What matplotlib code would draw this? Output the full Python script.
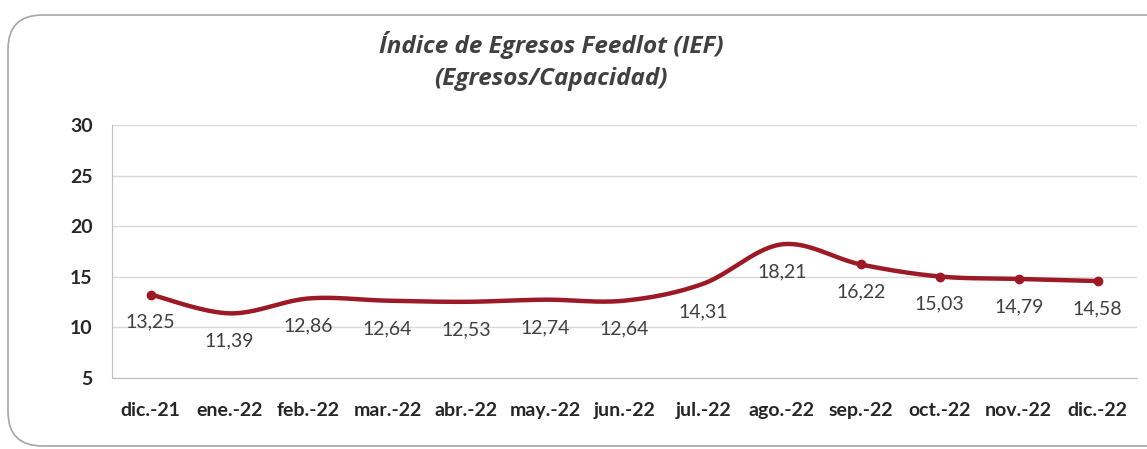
import numpy as np
import matplotlib
matplotlib.use("Agg")
from matplotlib import pyplot as plt
from matplotlib.patches import FancyBboxPatch

# datos del grafico
meses = ['dic.-21', 'ene.-22', 'feb.-22', 'mar.-22', 'abr.-22', 'may.-22',
         'jun.-22', 'jul.-22', 'ago.-22', 'sep.-22', 'oct.-22', 'nov.-22',
         'dic.-22']
ief = [13.25, 11.39, 12.86, 12.64, 12.53, 12.74, 12.64, 14.31, 18.21,
       16.22, 15.03, 14.79, 14.58]
etiquetas = ['13,25', '11,39', '12,86', '12,64', '12,53', '12,74', '12,64',
             '14,31', '18,21', '16,22', '15,03', '14,79', '14,58']
con_marcador = [0, 9, 10, 11, 12]

rojo = '#9c1a26'
gris_txt = '#404040'


def suavizar(x, y, n=40):
    # linea suavizada tipo Excel (bezier con puntos de control catmull-rom)
    px = np.concatenate([[x[0]], x, [x[-1]]])
    py = np.concatenate([[y[0]], y, [y[-1]]])
    xs, ys = [], []
    t = np.linspace(0, 1, n)
    for i in range(1, len(px) - 2):
        p0 = np.array([px[i], py[i]])
        p3 = np.array([px[i + 1], py[i + 1]])
        p1 = p0 + (np.array([px[i + 1], py[i + 1]]) - np.array([px[i - 1], py[i - 1]])) / 6
        p2 = p3 - (np.array([px[i + 2], py[i + 2]]) - np.array([px[i], py[i]])) / 6
        b = ((1 - t) ** 3)[:, None] * p0 + (3 * (1 - t) ** 2 * t)[:, None] * p1 \
            + (3 * (1 - t) * t ** 2)[:, None] * p2 + (t ** 3)[:, None] * p3
        xs.extend(b[:, 0])
        ys.extend(b[:, 1])
    return np.array(xs), np.array(ys)


fig = plt.figure(figsize=(11.47, 4.49), dpi=100)
ax = fig.add_axes([0.0977, 0.1581, 0.8936, 0.5635])

# marco redondeado
marco = FancyBboxPatch((8 / 1147, 3 / 449), 1.2, 431 / 449,
                       boxstyle="round,pad=0,rounding_size=0.03",
                       transform=fig.transFigure, fill=False,
                       edgecolor='#a6a6a6', linewidth=1.2,
                       mutation_aspect=1147 / 449, zorder=0)
fig.patches.append(marco)

x = np.arange(len(meses))
sx, sy = suavizar(x.astype(float), np.array(ief))
ax.plot(sx, sy, color=rojo, linewidth=3.2, solid_capstyle='round', zorder=3)
ax.plot(x[con_marcador], np.array(ief)[con_marcador], 'o', color=rojo,
        markersize=6, zorder=4)

for i in range(len(meses)):
    ax.annotate(etiquetas[i], (x[i], ief[i]), xytext=(0, -20),
                textcoords='offset points', ha='center', va='center',
                fontsize=14, color=gris_txt, family='Lato')

ax.set_xlim(-0.49, 12.5)
ax.set_ylim(5, 30)
ax.set_yticks([5, 10, 15, 20, 25, 30])
ax.set_xticks(x)
ax.set_xticklabels(meses)
ax.grid(axis='y', color='#d9d9d9', linewidth=1)
ax.set_axisbelow(True)
for s in ['top', 'right']:
    ax.spines[s].set_visible(False)
ax.spines['left'].set_color('#bfbfbf')
ax.spines['bottom'].set_color('#bfbfbf')
ax.tick_params(length=0)
ax.tick_params(axis='x', pad=17)
ax.tick_params(axis='y', pad=14)
for lab in ax.get_xticklabels() + ax.get_yticklabels():
    lab.set_family('Lato')
    lab.set_fontweight('bold')
    lab.set_fontsize(14)
    lab.set_color('#262626')

fig.text(551 / 1147, 1 - 45 / 449, 'Índice de Egresos Feedlot (IEF)',
         ha='center', va='center', fontsize=17.5, fontweight='bold',
         style='italic', family='Open Sans', color=gris_txt)
fig.text(551 / 1147, 1 - 79 / 449, '(Egresos/Capacidad)',
         ha='center', va='center', fontsize=17.5, fontweight='bold',
         style='italic', family='Open Sans', color=gris_txt)

fig.savefig('out.png', dpi=100)
